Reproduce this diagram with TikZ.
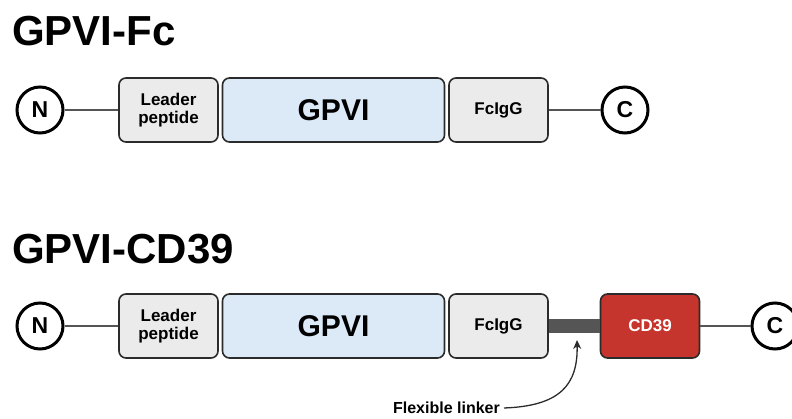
\documentclass[tikz,border=0pt]{standalone}
\usepackage{fontspec}
\setmainfont{Liberation Sans}
\usetikzlibrary{arrows.meta}
\definecolor{boxgray}{HTML}{EBEBEB}
\definecolor{boxblue}{HTML}{DCEAF8}
\definecolor{boxred}{HTML}{C5352E}
\definecolor{edge}{HTML}{2B2B2B}
\definecolor{linkgray}{HTML}{555555}
\begin{document}
\begin{tikzpicture}[x=1pt,y=-1pt,
  dom/.style={draw=edge,line width=1.6pt,rounded corners=7pt,minimum height=64pt,inner sep=0pt,align=center,font=\bfseries\fontsize{17}{19}\selectfont},
  graybox/.style={dom,fill=boxgray,minimum width=99pt},
  bluebox/.style={dom,fill=boxblue,minimum width=222pt,font=\bfseries\fontsize{30}{32}\selectfont},
  redbox/.style={dom,fill=boxred,minimum width=99pt,text=white},
  term/.style={circle,draw=black,line width=3pt,minimum size=46pt,inner sep=0pt,font=\bfseries\fontsize{23}{25}\selectfont},
  conn/.style={draw=linkgray,line width=1.5pt},
  title/.style={anchor=west,inner sep=0pt,font=\bfseries\fontsize{42}{44}\selectfont}]
\useasboundingbox (0,0) rectangle (792,419);
% Row 1
\node[title] (t1) at (12,31) {GPVI-Fc};
\node[term] (n1) at (40,110) {N};
\node[graybox] (lp1) at (168.5,110) {Leader\\[-1pt]peptide};
\node[bluebox] (g1) at (333.5,110) {GPVI};
\node[graybox] (fc1) at (498.5,110) {FcIgG};
\node[term] (c1) at (625,110) {C};
\draw[conn] (n1) -- (lp1);
\draw[conn] (fc1) -- (c1);
% Row 2
\node[title] (t2) at (12,249) {GPVI-CD39};
\node[term] (n2) at (40,326) {N};
\node[graybox] (lp2) at (168.5,326) {Leader\\[-1pt]peptide};
\node[bluebox] (g2) at (333.5,326) {GPVI};
\node[graybox] (fc2) at (498.5,326) {FcIgG};
\node[redbox] (cd) at (650,326) {CD39};
\node[term] (c2) at (775,326) {C};
\draw[conn] (n2) -- (lp2);
\draw[linkgray,line width=14pt] (fc2.east) -- (cd.west);
\coordinate (lk) at (577,340);
\draw[conn] (cd) -- (c2);
\node[font=\bfseries\fontsize{16}{18}\selectfont,anchor=east,inner sep=0pt] (fl) at (500,408) {Flexible linker};
\draw[draw=edge,line width=1.3pt,-{Stealth[length=9pt,width=8pt]}] (fl.east) ++(4pt,0pt) .. controls (560,406) and (578,385) .. (lk);
\end{tikzpicture}
\end{document}
